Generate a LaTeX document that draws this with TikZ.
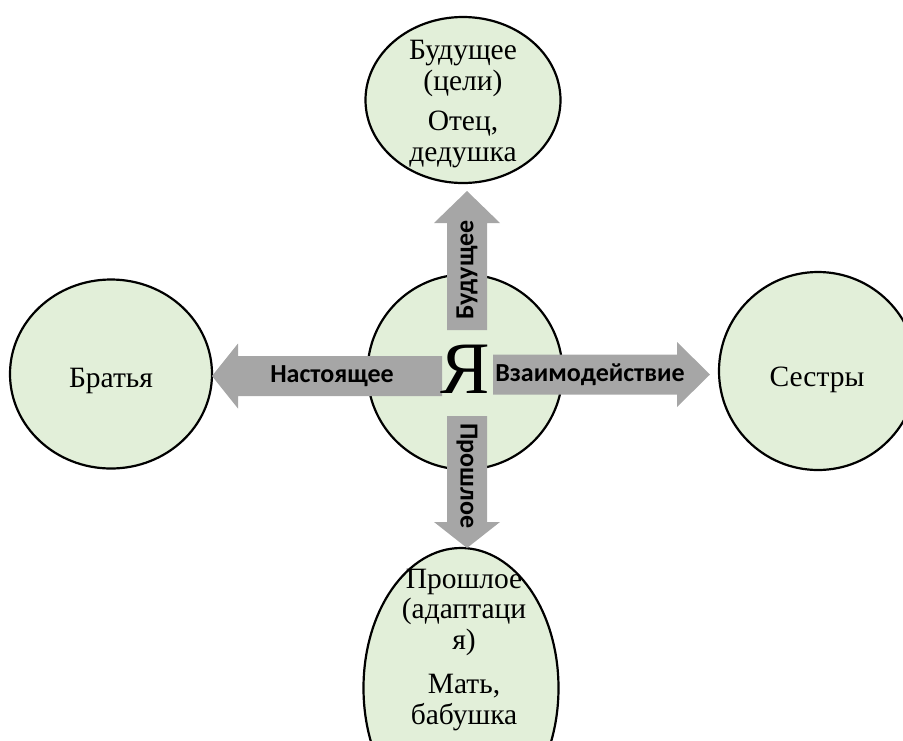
\documentclass[tikz,border=0pt]{standalone}
\usepackage{fontspec}
\setmainfont{Liberation Serif}
\newfontfamily\lblfont{Carlito}
\usetikzlibrary{shapes.geometric}
\definecolor{bubblegreen}{HTML}{E2EFD9}
\definecolor{arrowgray}{HTML}{A6A6A6}
\begin{document}
\begin{tikzpicture}[x=1pt,y=-1pt,
  bubble/.style={ellipse,draw=black,line width=2.2pt,fill=bubblegreen,inner sep=0pt},
  bubbletext/.style={align=center,inner sep=0pt,font=\fontsize{29.5}{30.5}\selectfont},
  arrowshape/.style={fill=arrowgray},
  arrowlbl/.style={font=\lblfont\bfseries\fontsize{26}{28}\selectfont,inner sep=0pt}]
\useasboundingbox (0,0) rectangle (903,740);
\clip (0,0) rectangle (903,740);

% circles
\node[bubble, minimum width=195pt, minimum height=195pt] (me) at (465,372) {};
\node[bubble, minimum width=195pt, minimum height=166pt] (future) at (463,100) {};
\node[bubble, minimum width=202pt, minimum height=189pt] (bro) at (111,374) {};
\node[bubble, minimum width=198pt, minimum height=198pt] (sis) at (818,371) {};
\node[bubble, minimum width=195pt, minimum height=280pt] (past) at (461,688) {};

% arrows
\fill[arrowshape] (212,376) -- (238,343.5) -- (238,356) -- (442,356) -- (442,396) -- (238,396) -- (238,408.5) -- cycle;
\fill[arrowshape] (710,374.5) -- (677,342) -- (677,354.5) -- (493,354.5) -- (493,394.5) -- (677,394.5) -- (677,407) -- cycle;
\fill[arrowshape] (467,191) -- (500,223) -- (487,223) -- (487,330) -- (447,330) -- (447,223) -- (434,223) -- cycle;
\fill[arrowshape] (467,548) -- (500,522) -- (487,522) -- (487,416) -- (447,416) -- (447,522) -- (434,522) -- cycle;

% texts
\node[bubbletext] (futuretext) at (463,104) {Будущее\\(цели)\\[10pt]Отец,\\дедушка};
\node[bubbletext] (pasttext) at (464,650) {Прошлое\\(адаптаци\\я)\\[14pt]Мать,\\бабушка};
\node[bubbletext] (brotext) at (111,381) {Братья};
\node[bubbletext] (sistext) at (817,380) {Сестры};
\node[inner sep=0pt,font=\fontsize{74}{74}\selectfont] (ya) at (465,369) {Я};

\node[arrowlbl] (lblnow) at (332,376) {Настоящее};
\node[arrowlbl] (lblint) at (590,375) {Взаимодействие};
\node[arrowlbl, rotate=90] (lblfut) at (467,270) {Будущее};
\node[arrowlbl, rotate=-90] (lblpast) at (467,476) {Прошлое};
\end{tikzpicture}
\end{document}
